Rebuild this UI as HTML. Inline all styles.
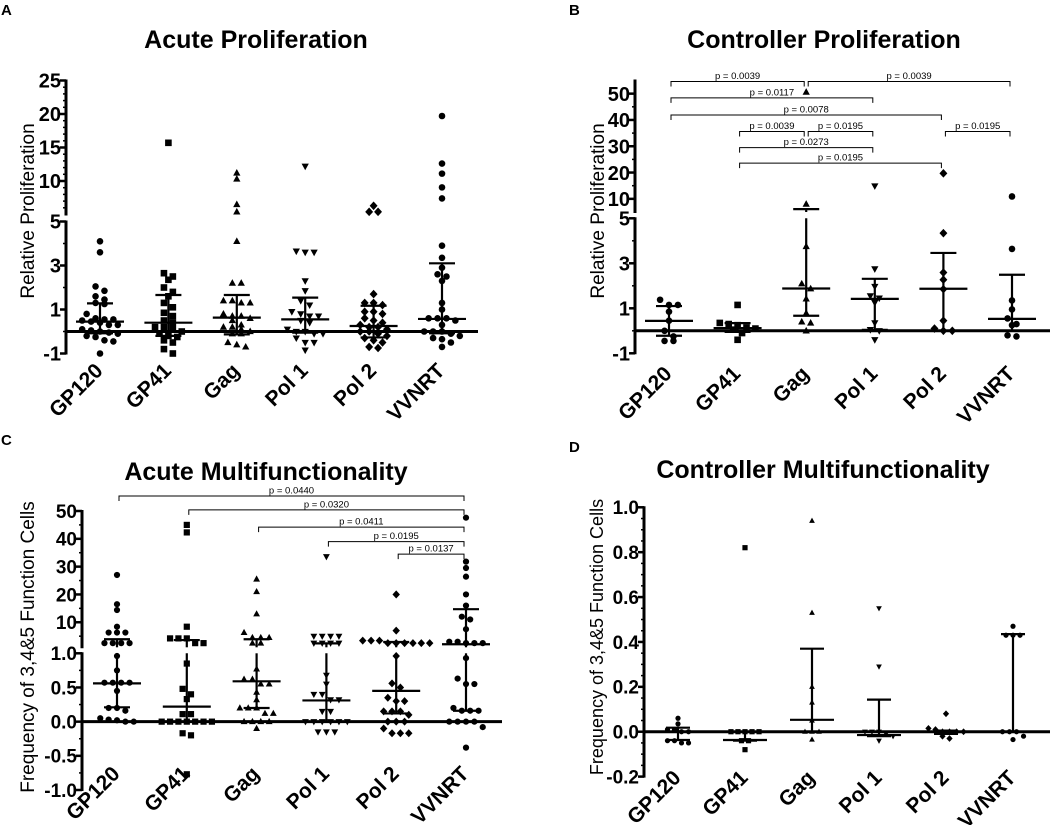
<!DOCTYPE html>
<html><head><meta charset="utf-8">
<style>
html,body{margin:0;padding:0;background:#fff;}
svg{display:block;font-family:"Liberation Sans",Arial,sans-serif;}
</style></head>
<body>
<svg id="fig" width="1050" height="825" viewBox="0 0 1050 825" xmlns="http://www.w3.org/2000/svg"></svg>
<script>
const categories = ["GP120","GP41","Gag","Pol 1","Pol 2","VVNRT"];

// Panel A: Acute Proliferation
const aGP120 = [4.1,3.6,2.05,1.85,1.6,1.45,1.3,1.25,0.8,0.6,0.55,0.55,0.5,0.45,0.4,0.3,0.3,0.1,0.05,0,-0.05,-0.1,-0.2,-0.25,-0.4,-0.45,-1.0];
const aGP41 = [15.7,2.65,2.5,2.35,2.0,1.8,1.6,1.3,1.1,0.85,0.7,0.5,0.4,0.2,0.2,0.1,0,-0.1,-0.2,-0.25,-0.4,-0.5,-0.8,-1.0];
const aGag = [11.2,10.3,6.5,5.4,4.1,2.2,2.2,1.4,1.4,1.3,1.3,0.8,0.7,0.7,0.6,0.5,0.3,0.2,0.2,0.1,0,-0.1,-0.1,-0.5,-0.6,-0.7];
const aPol1 = [12.2,3.65,3.6,3.6,2.3,1.85,1.4,1.2,0.9,0.8,0.7,0.7,0.5,0.4,0.1,0,0,-0.1,-0.1,-0.3,-0.5,-0.5,-0.85];
const aPol2 = [6.3,5.4,5.4,1.7,1.3,1.3,1.2,0.9,0.9,0.8,0.6,0.5,0.4,0.3,0.2,0.2,0.1,0,0,-0.1,-0.2,-0.3,-0.4,-0.5,-0.7,-0.75];
const aVVNRT = [19.7,12.6,11.1,9.05,7.4,3.9,3.35,2.9,2.6,2.5,2.3,1.3,1.0,0.6,0.6,0.6,0.5,0.3,0,0,0,-0.1,-0.2,-0.3,-0.35,-0.5,-0.7];
const aMedian = [0.45,0.4,0.63,0.55,0.25,0.57];
const aQ1 = [-0.08,-0.2,-0.13,-0.05,-0.27,-0.08];
const aQ3 = [1.28,1.66,1.66,1.54,1.17,3.1];

// Panel B: Controller Proliferation
const bGP120 = [1.38,1.15,1.15,0.85,0.45,0.0,-0.25,-0.45,-0.45];
const bGP41 = [1.15,0.35,0.3,0.25,0.15,0.1,0.05,-0.1,-0.4];
const bGag = [50.6,8.0,3.75,2.09,1.87,1.42,0.78,0.4,0.35,0.0];
const bPol1 = [14.9,2.75,1.97,1.55,1.45,1.25,0.35,0.05,0.0,-0.4];
const bPol2 = [19.7,4.34,2.59,2.27,1.85,0.45,0.1,0,0];
const bVVNRT = [10.9,3.64,1.35,0.95,0.55,0.3,0.25,-0.25,-0.2];
const bMedian = [0.44,0.12,1.88,1.42,1.87,0.53];
const bQ1 = [-0.22,-0.05,0.67,0.04,0,0];
const bQ3 = [1.1,0.34,6.1,2.31,3.46,2.49];
const bBrFrom = [0,2,0,0,1,2,4,1,1];
const bBrTo = [2,5,3,4,2,3,5,3,4];
const bBrLevel = [54.6,54.6,48.4,41.9,35.6,35.6,35.6,29.5,23.6];
const bBrLabel = ["p = 0.0039","p = 0.0039","p = 0.0117","p = 0.0078","p = 0.0039","p = 0.0195","p = 0.0195","p = 0.0273","p = 0.0195"];

// Panel C: Acute Multifunctionality
const cGP120 = [27,16.5,14.4,8.4,6.3,6.3,6.3,2.5,2.5,2.5,2.5,0.96,0.75,0.57,0.57,0.57,0.57,0.45,0.2,0.2,0.16,0.05,0.03,0.02,0,0];
const cGP41 = [45,42.3,8.4,4.2,4.2,4.2,2.5,2.5,0.85,0.48,0.4,0.33,0.11,0.11,0,0,0,0,0,0,0,-0.17,-0.2,-0.77];
const cGag = [25.5,21,13,6.3,4.5,4.5,4.5,2.5,2.5,0.77,0.62,0.62,0.55,0.55,0.43,0.32,0.2,0.2,0.2,0.12,0.12,0,0,0,0,-0.1];
const cPol1 = [33.6,5,5,5,5,2.5,2.5,2.5,2.5,0.68,0.55,0.4,0.4,0.32,0.32,0.15,0.15,0,0,0,0,0,0,-0.15,-0.15,-0.15];
const cPol2 = [20,7,3.4,3.4,3.4,2.5,2.5,2.5,2.5,2.5,2.5,0.96,0.56,0.5,0.35,0.3,0.3,0.15,0.15,0.15,0.1,0,0,0,-0.1,-0.17,-0.17,-0.17];
const cVVNRT = [47.6,31.8,29.5,26.4,20,16,12,11,7.5,3,3,2.5,2.5,2.5,0.93,0.63,0.55,0.55,0.2,0.16,0.16,0.16,0,0,0,0,-0.08,-0.38];
const cMedian = [0.56,0.22,0.59,0.31,0.45,2.1];
const cQ1 = [0.21,0,0.2,0,0.12,0.16];
const cQ3 = [3.9,3.6,3.9,2.4,2.9,14.7];
const cBrFrom = [0,1,2,3,4];
const cBrTo = [5,5,5,5,5];
const cBrLevel = [55.4,50.4,44.2,39.0,34.5];
const cBrLabel = ["p = 0.0440","p = 0.0320","p = 0.0411","p = 0.0195","p = 0.0137"];

// Panel D: Controller Multifunctionality
const dGP120 = [0.06,0.035,0.01,0.01,0,0,-0.04,-0.04,-0.05,-0.05];
const dGP41 = [0.82,0,0,0,0,0,-0.04,-0.04,-0.08];
const dGag = [0.94,0.53,0.2,0.13,0.05,0,0,0,-0.035];
const dPol1 = [0.55,0.29,0,0,0,-0.01,-0.02,-0.04];
const dPol2 = [0.08,0.015,0.01,0,0,0,0,-0.02,-0.03];
const dVVNRT = [0.47,0.43,0.43,0.43,0,0,0,-0.02,-0.035];
const dMedian = [0,-0.037,0.053,-0.015,0,0];
const dQ1 = [-0.037,-0.04,0,-0.02,-0.01,0];
const dQ3 = [0.018,0,0.37,0.143,0.005,0.435];

const NS = "http://www.w3.org/2000/svg";
const svg = document.getElementById("fig");
function mk(tag, attrs, parent){
  const e = document.createElementNS(NS, tag);
  for (const k in attrs) e.setAttribute(k, attrs[k]);
  (parent||svg).appendChild(e);
  return e;
}
function txt(str, attrs, parent){ const t = mk("text", attrs, parent); t.textContent = str; return t; }
function makeScale(segs){
  return function(v){
    const s = (v <= segs[0].max || segs.length===1) ? segs[0] : segs[segs.length-1];
    return s.p0 + (v - s.min)*(s.p1 - s.p0)/(s.max - s.min);
  };
}
function segOf(segs, v){ return (segs.length===1 || v <= segs[0].max) ? 0 : 1; }

function marker(g, shape, x, y, r){
  let el;
  if (shape==="circle") el = mk("circle",{cx:x,cy:y,r:r,fill:"#000"},g);
  else if (shape==="square") el = mk("rect",{x:x-r,y:y-r,width:2*r,height:2*r,fill:"#000"},g);
  else if (shape==="tri") el = mk("polygon",{points:`${x},${y-r*1.2} ${x-r*1.1},${y+r*0.8} ${x+r*1.1},${y+r*0.8}`,fill:"#000"},g);
  else if (shape==="tridown") el = mk("polygon",{points:`${x},${y+r*1.2} ${x-r*1.1},${y-r*0.8} ${x+r*1.1},${y-r*0.8}`,fill:"#000"},g);
  else el = mk("polygon",{points:`${x},${y-r*1.3} ${x+r*1.2},${y} ${x},${y+r*1.3} ${x-r*1.2},${y}`,fill:"#000"},g);
  
  
}

const shapes = ["circle","square","tri","tridown","diamond","circle"];

function drawPanel(p){
  const g = mk("g",{});
  
  
  const y = makeScale(p.segs);
  const cx = i => p.x0 + i*p.step;
  const lt = txt(p.letter,{x:p.letterX,y:p.letterY,"font-size":15,"font-weight":"bold"},g);
   
  const tt = txt(p.title,{x:p.titleX,y:p.titleY,"font-size":p.titleSize,"font-weight":"bold","text-anchor":"middle"},g);
   
  const yt = txt(p.ytitle,{x:0,y:0,"font-size":p.ytitleSize,"text-anchor":"middle",transform:`translate(${p.ytitleX},${p.ytitleY}) rotate(-90)`},g);
   
  p.segs.forEach(s=>{
    const l = mk("line",{x1:p.axisX,x2:p.axisX,y1:s.p0+1,y2:s.p1-1,stroke:"#000","stroke-width":3},g);
     
  });
  p.minor.forEach(v=>{
    const t = mk("line",{x1:p.axisX-3,x2:p.axisX,y1:y(v),y2:y(v),stroke:"#000","stroke-width":1.5},g);
     
  });
  p.ticks.forEach((v,i)=>{
    const t = mk("line",{x1:p.axisX-6,x2:p.axisX,y1:y(v),y2:y(v),stroke:"#000","stroke-width":2.5},g);
     
    const l = txt(p.tickLabels[i],{x:p.axisX-5,y:y(v)+p.tickSize*0.36,"font-size":p.tickSize,"font-weight":"bold","text-anchor":"end"},g);
     
  });
  const z = mk("line",{x1:p.axisX,x2:p.zeroEnd,y1:y(0),y2:y(0),stroke:"#000","stroke-width":3},g);
   
  categories.forEach((c,i)=>{
    const ex = cx(i)+4, ey = p.labelY;
    const l = txt(c,{x:ex,y:ey,"font-size":21,"font-weight":"bold","text-anchor":"end",transform:`rotate(-45 ${ex} ${ey})`},g);
     
  });
  p.series.forEach((vals,i)=>{
    const sorted = vals.slice().sort((a,b)=>b-a);
    const groups = [];
    sorted.forEach(v=>{
      const py = y(v);
      const last = groups[groups.length-1];
      if (last && Math.abs(py - last.y0) < p.r*1.8) last.items.push(py);
      else groups.push({y0:py, items:[py]});
    });
    groups.forEach(gr=>{
      const n = gr.items.length;
      gr.items.forEach((py,k)=>{
        const off = (k - (n-1)/2) * p.r*2.7;
        marker(g, shapes[i], cx(i)+off, py, p.r);
      });
    });
  });
  categories.forEach((c,i)=>{
    const x = cx(i);
    const ln = (x1,y1,x2,y2,nm)=>{ const e = mk("line",{x1,y1,x2,y2,stroke:"#000","stroke-width":2.2},g);   };
    ln(x-p.medW,y(p.median[i]),x+p.medW,y(p.median[i]),'median-line');
    ln(x-p.capW,y(p.q1[i]),x+p.capW,y(p.q1[i]),'iqr-cap');
    ln(x-p.capW,y(p.q3[i]),x+p.capW,y(p.q3[i]),'iqr-cap');
    const s1 = segOf(p.segs,p.q1[i]), s3 = segOf(p.segs,p.q3[i]);
    if (s1===s3) ln(x,y(p.q1[i]),x,y(p.q3[i]),'iqr-whisker');
    else { ln(x,y(p.q1[i]),x,p.segs[0].p1,'iqr-whisker'); ln(x,p.segs[1].p0,x,y(p.q3[i]),'iqr-whisker'); }
  });
  if (p.brFrom){
    p.brFrom.forEach((f,k)=>{
      const x1 = cx(f)+2, x2 = cx(p.brTo[k])-2, by = y(p.brLevel[k]);
      const b = mk("polyline",{points:`${x1},${by+5} ${x1},${by} ${x2},${by} ${x2},${by+5}`,fill:"none",stroke:"#000","stroke-width":1},g);
       
      const l = txt(p.brLabel[k],{x:(x1+x2)/2,y:by-2.5,"font-size":9.5,"text-anchor":"middle"},g);
       
    });
  }
}

drawPanel({name:"panel-a-acute-proliferation",letter:"A",letterX:1,letterY:15,title:"Acute Proliferation",titleX:256,titleY:48,titleSize:25,
  ytitle:"Relative Proliferation",ytitleX:34,ytitleY:211,ytitleSize:19,
  segs:[{min:-1,max:5,p0:353.5,p1:221.5},{min:5,max:25,p0:214.5,p1:80.5}],
  axisX:66,zeroEnd:478,x0:100,step:68.4,labelY:372,r:3.3,medW:24,capW:13,tickSize:20,
  ticks:[-1,1,3,5,10,15,20,25],tickLabels:["-1","1","3","5","10","15","20","25"],
  minor:[0,2,4,6,7,8,9,11,12,13,14,16,17,18,19,21,22,23,24],
  series:[aGP120,aGP41,aGag,aPol1,aPol2,aVVNRT],median:aMedian,q1:aQ1,q3:aQ3});

drawPanel({name:"panel-b-controller-proliferation",letter:"B",letterX:569,letterY:15,title:"Controller Proliferation",titleX:824,titleY:48,titleSize:25,
  ytitle:"Relative Proliferation",ytitleX:604,ytitleY:211,ytitleSize:19,
  segs:[{min:-1,max:5,p0:353.3,p1:218.3},{min:5,max:55,p0:212,p1:80.5}],
  axisX:635,zeroEnd:1050,x0:669,step:68.6,labelY:375,r:3.3,medW:24,capW:13,tickSize:20,
  ticks:[-1,1,3,5,10,20,30,40,50],tickLabels:["-1","1","3","5","10","20","30","40","50"],
  minor:[0,2,4,15,25,35,45],
  series:[bGP120,bGP41,bGag,bPol1,bPol2,bVVNRT],median:bMedian,q1:bQ1,q3:bQ3,
  brFrom:bBrFrom,brTo:bBrTo,brLevel:bBrLevel,brLabel:bBrLabel});

drawPanel({name:"panel-c-acute-multifunctionality",letter:"C",letterX:1,letterY:445,title:"Acute Multifunctionality",titleX:266,titleY:480,titleSize:25,
  ytitle:"Frequency of 3,4&5 Function  Cells",ytitleX:34,ytitleY:647,ytitleSize:19,
  segs:[{min:-1,max:1,p0:790,p1:653.3},{min:1,max:50,p0:647.3,p1:511}],
  axisX:82,zeroEnd:502,x0:117,step:69.8,labelY:775,r:3.1,medW:24,capW:13,tickSize:19,
  ticks:[-1,-0.5,0,0.5,1,10,20,30,40,50],tickLabels:["-1.0","-0.5","0.0","0.5","1.0","10","20","30","40","50"],
  minor:[-0.75,-0.25,0.25,0.75,5,15,25,35,45],
  series:[cGP120,cGP41,cGag,cPol1,cPol2,cVVNRT],median:cMedian,q1:cQ1,q3:cQ3,
  brFrom:cBrFrom,brTo:cBrTo,brLevel:cBrLevel,brLabel:cBrLabel});

drawPanel({name:"panel-d-controller-multifunctionality",letter:"D",letterX:569,letterY:452,title:"Controller Multifunctionality",titleX:823,titleY:478,titleSize:25,
  ytitle:"Frequency of 3,4&5 Function  Cells",ytitleX:603,ytitleY:637,ytitleSize:18,
  segs:[{min:-0.2,max:1.0,p0:776.6,p1:507.3}],
  axisX:644,zeroEnd:1050,x0:678,step:67,labelY:779,r:2.6,medW:22,capW:12,tickSize:19,
  ticks:[-0.2,0,0.2,0.4,0.6,0.8,1.0],tickLabels:["-0.2","0.0","0.2","0.4","0.6","0.8","1.0"],
  minor:[-0.15,-0.1,-0.05,0.05,0.1,0.15,0.25,0.3,0.35,0.45,0.5,0.55,0.65,0.7,0.75,0.85,0.9,0.95],
  series:[dGP120,dGP41,dGag,dPol1,dPol2,dVVNRT],median:dMedian,q1:dQ1,q3:dQ3});
</script>
</body></html>
